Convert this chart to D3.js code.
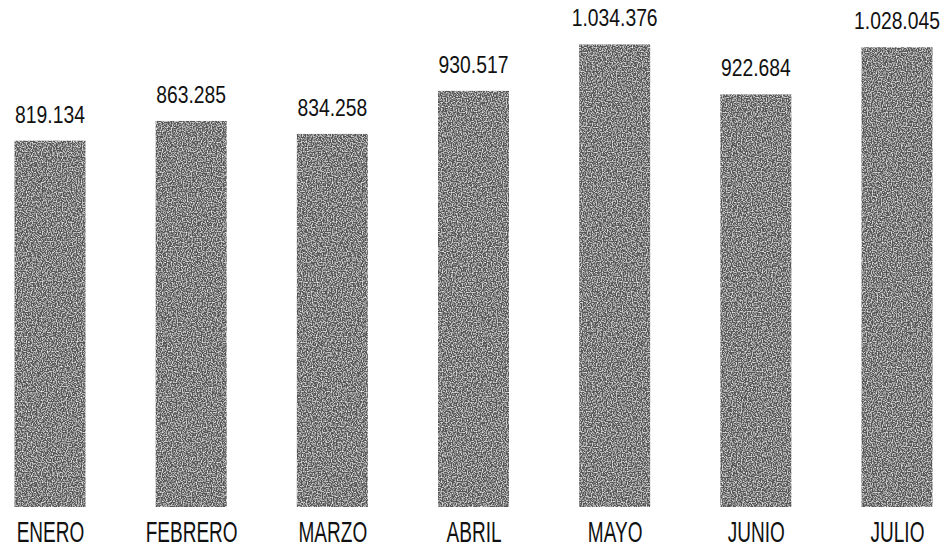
<!DOCTYPE html>
<html>
<head>
<meta charset="utf-8">
<script src="https://cdn.jsdelivr.net/npm/d3@7"></script>
<style>
  html, body { margin: 0; padding: 0; background: #fff; }
  svg { display: block; }
  text { font-family: "Liberation Sans", Arial, sans-serif; fill: #111; }
</style>
</head>
<body>
<svg id="chart" width="945" height="548"></svg>
<script>
// Monthly totals
const months = ["ENERO", "FEBRERO", "MARZO", "ABRIL", "MAYO", "JUNIO", "JULIO"];
const totals = [819134, 863285, 834258, 930517, 1034376, 922684, 1028045];
const valueLabels = ["819.134", "863.285", "834.258", "930.517", "1.034.376", "922.684", "1.028.045"];

const svg = d3.select("#chart");
const baseline = 507;
const barWidth = 71;

const x = d3.scalePoint().domain(months).range([50, 897]);
const y = d3.scaleLinear().domain([0, 1100000]).range([baseline, baseline - 1100000 * 0.0004472]);

const data = months.map((m, i) => ({ month: m, value: totals[i], label: valueLabels[i] }));

// Grainy grey fill for the bars
const defs = svg.append("defs");
const f = defs.append("filter").attr("id", "grain").attr("x", 0).attr("y", 0).attr("width", 1).attr("height", 1);
f.append("feTurbulence").attr("type", "fractalNoise").attr("baseFrequency", 0.8).attr("numOctaves", 1).attr("seed", 3).attr("result", "noise");
f.append("feColorMatrix").attr("in", "noise").attr("type", "matrix")
  .attr("values", "0 0 0 0 1  0 0 0 0 1  0 0 0 0 1  2.4 0 0 0 -1.05").attr("result", "speck");
f.append("feComposite").attr("in", "speck").attr("in2", "SourceGraphic").attr("operator", "atop");

svg.append("g").selectAll("rect").data(data).join("rect")
  .attr("x", d => x(d.month) - barWidth / 2)
  .attr("y", d => y(d.value))
  .attr("width", barWidth)
  .attr("height", d => baseline - y(d.value))
  .attr("fill", "#555555")
  .attr("filter", "url(#grain)");

// Value labels above bars (condensed lettering)
svg.append("g").selectAll("text").data(data).join("text")
  .attr("transform", d => `translate(${x(d.month)},${y(d.value) - 18}) scale(0.84,1)`)
  .attr("text-anchor", "middle")
  .attr("font-size", 23)
  .text(d => d.label);

// Month labels along the bottom
const xAxis = d3.axisBottom(x).tickSize(0).tickPadding(0);
const axisG = svg.append("g").attr("transform", `translate(0,${baseline})`).call(xAxis);
axisG.select(".domain").remove();
axisG.selectAll(".tick text")
  .attr("y", 0).attr("dy", null)
  .attr("font-size", 28)
  .attr("font-family", "Liberation Sans, Arial, sans-serif")
  .attr("fill", "#111")
  .attr("transform", "translate(0,35) scale(0.68,1.05)");
</script>
</body>
</html>
